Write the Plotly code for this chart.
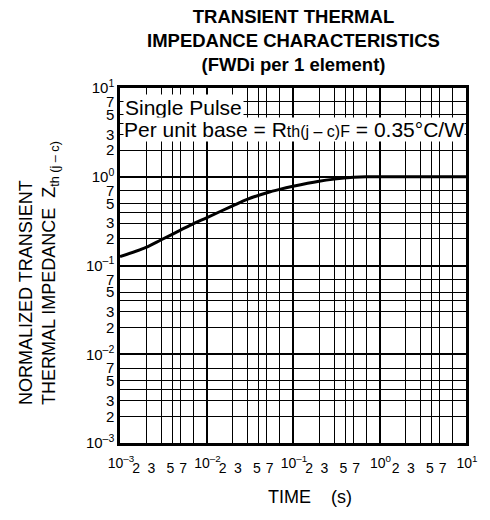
import plotly.graph_objects as go

# ---- data ----
time_s = [0.001, 0.002, 0.003, 0.005, 0.007, 0.01, 0.02, 0.03, 0.05, 0.07,
          0.1, 0.2, 0.3, 0.5, 0.7, 1.0, 10.0]
z_norm = [0.126, 0.16, 0.195, 0.25, 0.295, 0.345, 0.47, 0.56, 0.66, 0.72,
          0.78, 0.89, 0.94, 0.985, 1.0, 1.0, 1.0]

decades = [1e-3, 1e-2, 1e-1, 1.0, 10.0]
decade_labels = ["10<sup>–3</sup>", "10<sup>–2</sup>", "10<sup>–1</sup>",
                 "10<sup>0</sup>", "10<sup>1</sup>"]
label_mults = [2, 3, 5, 7]
label_text = ["2", "3", "5", "7"]
unlabeled_mults = [4]

sub_vals = [d * m for d in decades[:-1] for m in label_mults]
sub_text = [lab for d in decades[:-1] for lab in label_text]
grid4_vals = [d * m for d in decades[:-1] for m in unlabeled_mults]

y_vals = decades + sub_vals
y_text = decade_labels + sub_text

FONT = "Liberation Sans, Arial, Helvetica, sans-serif"
NB = "\u00a0"

fig = go.Figure()
# invisible trace to anchor the base subplot
fig.add_trace(go.Scatter(x=time_s, y=z_norm, mode="lines",
                         line=dict(width=0, color="rgba(0,0,0,0)"),
                         hoverinfo="skip", showlegend=False))
# the curve, on the overlay subplot (drawn on top of all grids)
fig.add_trace(go.Scatter(x=time_s, y=z_norm, mode="lines", xaxis="x2", yaxis="y2",
                         line=dict(width=3, color="black", shape="spline", smoothing=0.8),
                         showlegend=False))

common = dict(type="log", range=[-3, 1], zeroline=False, ticks="",
              gridcolor="black")
minor_grid = dict(tickvals=grid4_vals, showgrid=True, gridcolor="black", gridwidth=1, ticks="")

fig.update_layout(
    width=490, height=520,
    margin=dict(l=120, r=15, t=88, b=77),
    paper_bgcolor="white", plot_bgcolor="white",
    font=dict(family=FONT, color="black"),
    xaxis=dict(**common, tickvals=sub_vals, ticktext=sub_text, showgrid=True, gridwidth=1,
               minor=minor_grid,
               showline=True, linecolor="black", linewidth=2.5, mirror=True,
               ticklabelshift=-10, ticklabelstandoff=10,
               tickfont=dict(size=14, family=FONT)),
    xaxis2=dict(**common, overlaying="x", side="bottom", tickvals=decades, ticktext=decade_labels,
                showgrid=True, gridwidth=2, showline=False, ticklabelshift=1,
                ticklabelstandoff=10, tickfont=dict(size=14, family=FONT)),
    yaxis=dict(**common, tickvals=y_vals, ticktext=y_text, showgrid=True, gridwidth=1,
               minor=minor_grid,
               showline=True, linecolor="black", linewidth=2.5, mirror=True,
               tickfont=dict(size=15, family=FONT)),
    yaxis2=dict(**common, overlaying="y", side="left", tickvals=decades, showticklabels=False,
                showgrid=True, gridwidth=2, showline=False),
)

fig.add_annotation(xref="paper", yref="paper", x=0.5, y=1.237, xanchor="center", yanchor="top",
                   text="<b>TRANSIENT THERMAL<br>IMPEDANCE CHARACTERISTICS<br>(FWDi per 1 element)</b>",
                   showarrow=False, align="center",
                   font=dict(size=18.5, family=FONT, color="black"))
fig.add_annotation(xref="paper", yref="paper", x=0.008, y=0.945, xanchor="left", yanchor="middle",
                   text="Single Pulse", showarrow=False, bgcolor="white", borderpad=1,
                   font=dict(size=21, family=FONT, color="black"))
fig.add_annotation(xref="paper", yref="paper", x=0.008, y=0.884, xanchor="left", yanchor="middle",
                   text="Per unit base = R<span style='font-size:16px'>th(j – c)F</span> = 0.35°C/W",
                   showarrow=False, bgcolor="white", borderpad=0,
                   font=dict(size=21, family=FONT, color="black"))
fig.add_annotation(xref="paper", yref="paper", x=-0.234, y=0.479, xanchor="center", yanchor="middle",
                   textangle=-90, align="left", showarrow=False,
                   text="NORMALIZED TRANSIENT<br>THERMAL IMPEDANCE" + NB + NB + "Z<sub>th (j – c)</sub>",
                   font=dict(size=18, family=FONT, color="black"))
fig.add_annotation(xref="paper", yref="paper", x=0.55, y=-0.152, xanchor="center", yanchor="middle",
                   text="TIME" + NB * 4 + "(s)", showarrow=False,
                   font=dict(size=18, family=FONT, color="black"))

fig.write_html("out.html")
